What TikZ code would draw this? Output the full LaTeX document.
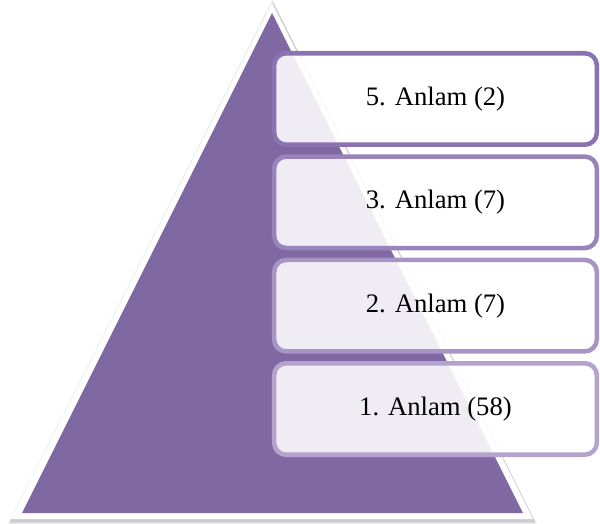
\documentclass[tikz,border=0pt]{standalone}
\usepackage{fontspec}
\setmainfont{Liberation Serif}
\definecolor{pyr}{RGB}{128,105,162}
\definecolor{bA}{RGB}{139,114,176}
\definecolor{bB}{RGB}{153,131,187}
\definecolor{bC}{RGB}{168,149,197}
\definecolor{bD}{RGB}{181,163,205}
\tikzset{
  lvlbox/.style={shape=rectangle, rounded corners=9pt, line width=3.4pt,
    fill=white, fill opacity=0.88, text opacity=1, text=black,
    minimum width=242pt, minimum height=68.6pt, inner sep=0pt,
    font=\fontsize{20}{24}\selectfont},
  shadowtri/.style={fill=black, opacity=0.07},
}
\begin{document}
\begin{tikzpicture}[x=0.75pt,y=-0.75pt]
\useasboundingbox (0,0) rectangle (600,524);
% soft triangle shadow
\fill[shadowtri] (272,0) -- (537,524) -- (8,524) -- cycle;
\fill[shadowtri] (273,1) -- (536,523) -- (9,523) -- cycle;
\fill[shadowtri] (273,2) -- (535,522) -- (10,522) -- cycle;
% white outline
\fill[white] (272,3) -- (533,519) -- (11,519) -- cycle;
% purple pyramid
\fill[pyr] (272,13) -- (523,513) -- (22,513) -- cycle;
% level boxes
\node[lvlbox, draw=bA] (l5) at (435.5,99) {5. Anlam (2)};
\node[lvlbox, draw=bB] (l3) at (435.5,202.3) {3. Anlam (7)};
\node[lvlbox, draw=bC] (l2) at (435.5,305.7) {2. Anlam (7)};
\node[lvlbox, draw=bD] (l1) at (435.5,409) {1. Anlam (58)};
\end{tikzpicture}
\end{document}
